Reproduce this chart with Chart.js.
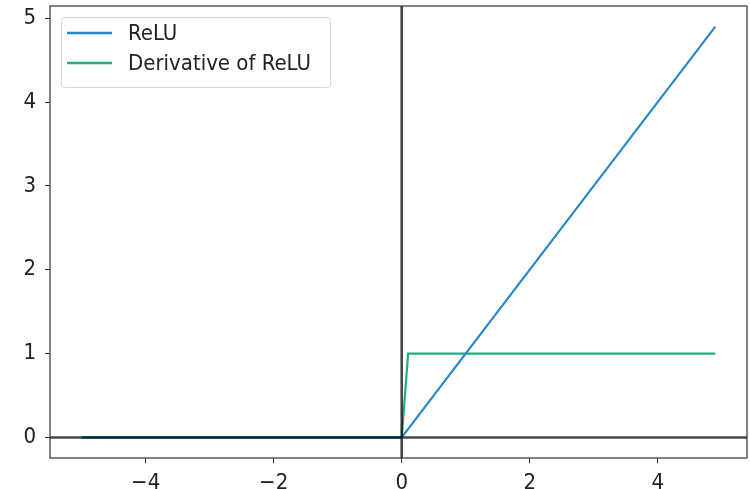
<!DOCTYPE html>
<html>
<head>
<meta charset="utf-8">
<script src="https://cdn.jsdelivr.net/npm/chart.js@4/dist/chart.umd.min.js"></script>
<style>
  html, body { margin: 0; padding: 0; background: #fff; }
  #wrap { width: 750px; height: 489px; }
</style>
</head>
<body>
<div id="wrap"><canvas id="reluChart" width="750" height="489"></canvas></div>
<script>
// breakpoints of the two curves (x from -5 to 4.9, step 0.1)
const reluX = [-5, 0, 4.9];
const reluY = [0, 0, 4.9];
const derivX = [-5, 0, 0.1, 4.9];
const derivY = [0, 0, 1, 1];
const xTicks = [-4, -2, 0, 2, 4];
const yTicks = [0, 1, 2, 3, 4, 5];
const labels = ['ReLU', 'Derivative of ReLU'];
const colors = ['#2a88c8', '#22ac84'];

const fuente = '"DejaVu Sans Condensed", "DejaVu Sans", sans-serif';
const minus = v => String(v).replace('-', '\u2212');

const toPoints = (xs, ys) => xs.map((x, i) => ({ x: x, y: ys[i] }));

// frame, zero lines and legend drawn on top of the data
const extras = {
  id: 'extras',
  afterDatasetsDraw(chart) {
    const { ctx, chartArea: a, scales } = chart;
    const x0 = scales.x.getPixelForValue(0);
    const y0 = scales.y.getPixelForValue(0);
    ctx.save();
    ctx.strokeStyle = 'rgba(0,0,0,0.72)';
    ctx.lineWidth = 2.6;
    ctx.beginPath();
    ctx.moveTo(a.left, y0); ctx.lineTo(a.right, y0);
    ctx.moveTo(x0, a.top); ctx.lineTo(x0, a.bottom);
    ctx.stroke();

    ctx.strokeStyle = '#333';
    ctx.lineWidth = 1.2;
    ctx.strokeRect(a.left, a.top, a.right - a.left, a.bottom - a.top);

    // legend box
    const bx = 61, by = 17, bw = 269, bh = 70;
    ctx.fillStyle = 'rgba(255,255,255,0.8)';
    ctx.strokeStyle = '#d6d6d6';
    ctx.lineWidth = 1;
    ctx.beginPath();
    ctx.roundRect(bx + 0.5, by + 0.5, bw, bh, 3);
    ctx.fill();
    ctx.stroke();
    ctx.font = '22px ' + fuente;
    ctx.textBaseline = 'middle';
    labels.forEach((lab, i) => {
      const yy = by + 16 + i * 30;
      ctx.strokeStyle = colors[i];
      ctx.lineWidth = 2.4;
      ctx.beginPath();
      ctx.moveTo(67, yy); ctx.lineTo(112, yy);
      ctx.stroke();
      ctx.fillStyle = '#222';
      ctx.fillText(lab, 128, yy + 1);
    });
    ctx.restore();
  }
};

new Chart(document.getElementById('reluChart'), {
  type: 'scatter',
  data: {
    datasets: [
      { label: labels[0], data: toPoints(reluX, reluY), showLine: true,
        borderColor: colors[0], borderWidth: 2.2, pointRadius: 0, tension: 0 },
      { label: labels[1], data: toPoints(derivX, derivY), showLine: true,
        borderColor: colors[1], borderWidth: 2.2, pointRadius: 0, tension: 0 }
    ]
  },
  options: {
    responsive: false,
    animation: false,
    layout: { padding: { left: 0, right: 3, top: 6, bottom: 0 } },
    plugins: { legend: { display: false }, tooltip: { enabled: false } },
    scales: {
      x: {
        type: 'linear', min: -5.495, max: 5.395,
        afterBuildTicks: s => { s.ticks = xTicks.map(v => ({ value: v })); },
        afterFit: s => { s.height = 31; s.paddingLeft = 0; s.paddingRight = 0; },
        grid: { drawOnChartArea: false, drawTicks: true, tickLength: 5, color: '#333' },
        border: { display: false },
        ticks: { color: '#222', font: { family: fuente, size: 22 }, padding: 7,
                 maxRotation: 0, callback: v => minus(v) }
      },
      y: {
        type: 'linear', min: -0.245, max: 5.145,
        afterBuildTicks: s => { s.ticks = yTicks.map(v => ({ value: v })); },
        afterFit: s => { s.width = 50; s.paddingTop = 0; s.paddingBottom = 0; },
        grid: { drawOnChartArea: false, drawTicks: true, tickLength: 5, color: '#333' },
        border: { display: false },
        ticks: { color: '#222', font: { family: fuente, size: 22 }, padding: 9,
                 callback: v => minus(v) }
      }
    }
  },
  plugins: [extras]
});
</script>
</body>
</html>
